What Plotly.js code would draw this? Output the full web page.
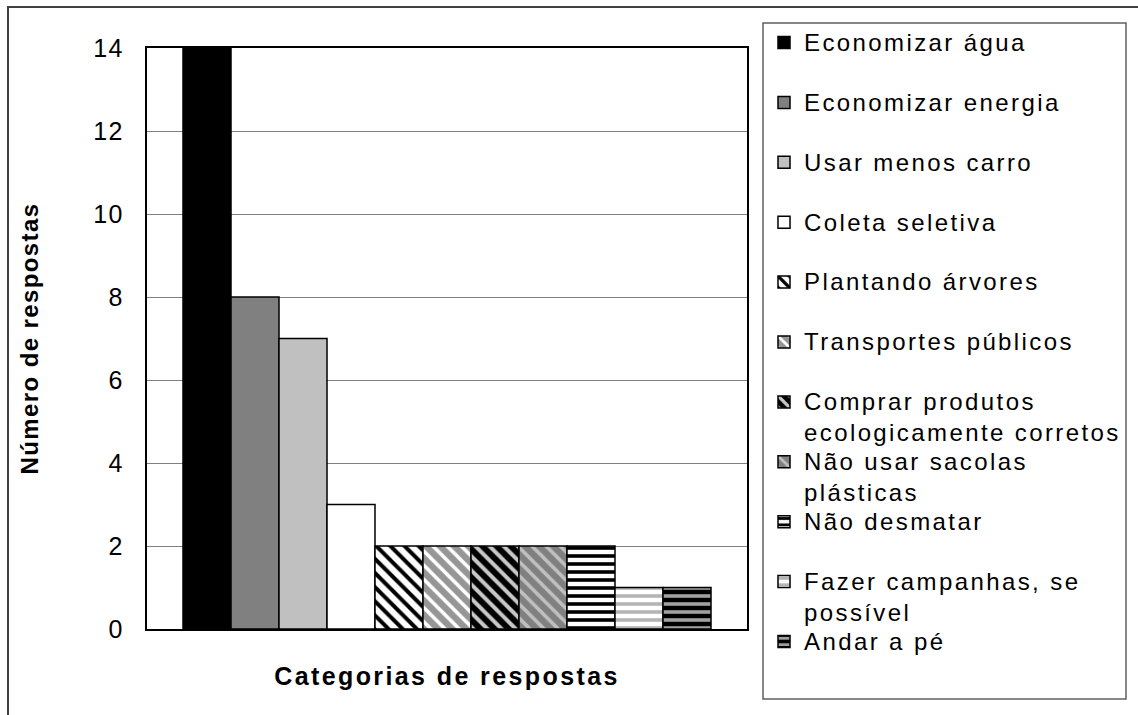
<!DOCTYPE html>
<html>
<head>
<meta charset="utf-8">
<script src="https://cdn.plot.ly/plotly-3.0.1.min.js"></script>
<style>
  html, body { margin: 0; padding: 0; background: #fff; }
  #chart { width: 1138px; height: 715px; }
  .legendtext { font-size: 24px !important; letter-spacing: 2.4px; }
  .ytick text { letter-spacing: 1.5px; }
  .g-xtitle text { letter-spacing: 2.4px; }
  .g-ytitle text { letter-spacing: 1.4px; }
</style>
</head>
<body>
<div id="chart"></div>
<script>
// ---- data ----
var categories = [
  "Economizar água",
  "Economizar energia",
  "Usar menos carro",
  "Coleta seletiva",
  "Plantando árvores",
  "Transportes públicos",
  "Comprar produtos ecologicamente corretos",
  "Não usar sacolas plásticas",
  "Não desmatar",
  "Fazer campanhas, se possível",
  "Andar a pé"
];
var legendLabels = [
  "Economizar água<br>&nbsp;",
  "Economizar energia<br>&nbsp;",
  "Usar menos carro<br>&nbsp;",
  "Coleta seletiva<br>&nbsp;",
  "Plantando árvores<br>&nbsp;",
  "Transportes públicos<br>&nbsp;",
  "Comprar produtos<br>ecologicamente corretos",
  "Não usar sacolas<br>plásticas",
  "Não desmatar<br>&nbsp;",
  "Fazer campanhas, se<br>possível",
  "Andar a pé<br>&nbsp;"
];
var values = [14, 8, 7, 3, 2, 2, 2, 2, 2, 1, 1];
var yTickVals = [0, 2, 4, 6, 8, 10, 12, 14];
var xTitle = "Categorias de respostas";
var yTitle = "Número de respostas";

// ---- styles ----
var fills = [
  {color: "#000000"},
  {color: "#808080"},
  {color: "#c0c0c0"},
  {color: "#ffffff"},
  {color: "#ffffff", pattern: {shape: "\\", fgcolor: "#000000", bgcolor: "#ffffff", size: 10, solidity: 0.4, fillmode: "replace"}},
  {color: "#ffffff", pattern: {shape: "\\", fgcolor: "#ffffff", bgcolor: "#969696", size: 10, solidity: 0.35, fillmode: "replace"}},
  {color: "#ffffff", pattern: {shape: "\\", fgcolor: "#c8c8c8", bgcolor: "#000000", size: 10, solidity: 0.4, fillmode: "replace"}},
  {color: "#ffffff", pattern: {shape: "\\", fgcolor: "#c0c0c0", bgcolor: "#808080", size: 10, solidity: 0.35, fillmode: "replace"}},
  {color: "#ffffff", pattern: {shape: "-", fgcolor: "#000000", bgcolor: "#ffffff", size: 8, solidity: 0.45, fillmode: "replace"}},
  {color: "#ffffff", pattern: {shape: "-", fgcolor: "#b4b4b4", bgcolor: "#ffffff", size: 8, solidity: 0.45, fillmode: "replace"}},
  {color: "#ffffff", pattern: {shape: "-", fgcolor: "#a0a0a0", bgcolor: "#000000", size: 8, solidity: 0.45, fillmode: "replace"}}
];

var FONT = "Liberation Sans, Arial, sans-serif";

var traces = categories.map(function (c, i) {
  var m = {color: fills[i].color, line: {color: "#000000", width: 1.5}};
  if (fills[i].pattern) m.pattern = fills[i].pattern;
  return {
    type: "bar",
    name: legendLabels[i],
    x: ["Categorias"],
    y: [values[i]],
    marker: m,
    legendgroup: "g" + i,
    hoverinfo: "skip"
  };
});

var W = 1138, H = 715;
var L = 147, R = 747, T = 48, B = 629;
function px(x) { return (x - L) / (R - L); }
function py(y) { return (B - y) / (B - T); }

var layout = {
  width: W, height: H,
  margin: {l: L, r: W - R, t: T, b: H - B, pad: 0},
  paper_bgcolor: "#ffffff",
  plot_bgcolor: "#ffffff",
  font: {family: FONT, color: "#000000", size: 21},
  barmode: "group",
  bargap: 0.12,
  bargroupgap: 0,
  showlegend: true,
  legend: {
    x: px(764), y: py(22), xanchor: "left", yanchor: "top",
    bgcolor: "rgba(0,0,0,0)", borderwidth: 0,
    font: {family: FONT, size: 21.5, color: "#000000"},
    traceorder: "grouped",
    tracegroupgap: 1,
    valign: "top",
    maxheight: 1,
    itemclick: false, itemdoubleclick: false
  },
  xaxis: {
    type: "category",
    showticklabels: false,
    ticks: "",
    showgrid: false,
    zeroline: false,
    showline: true, mirror: true, linecolor: "#000000", linewidth: 2,
    automargin: false,
    title: {text: "<b>" + xTitle + "</b>", font: {family: FONT, size: 25, color: "#000000"}, standoff: 37}
  },
  yaxis: {
    range: [0, 14],
    tickvals: yTickVals,
    ticktext: yTickVals.map(String),
    ticks: "",
    ticklabelstandoff: 16,
    tickfont: {family: FONT, size: 25, color: "#000000"},
    showgrid: true, gridcolor: "#808080", gridwidth: 1,
    zeroline: false,
    showline: true, mirror: true, linecolor: "#000000", linewidth: 2,
    automargin: false,
    title: {text: "<b>" + yTitle + "</b>", font: {family: FONT, size: 24, color: "#000000"}, standoff: 48}
  },
  shapes: [
    {type: "rect", xref: "paper", yref: "paper", x0: px(8), x1: px(1180), y0: py(760), y1: py(7),
     line: {color: "#404040", width: 2}, fillcolor: "rgba(0,0,0,0)", layer: "below"},
    {type: "rect", xref: "paper", yref: "paper", x0: px(763), x1: px(1126), y0: py(699), y1: py(23),
     line: {color: "#606060", width: 1.5}, fillcolor: "rgba(0,0,0,0)", layer: "below"}
  ]
};

Plotly.newPlot("chart", traces, layout, {displayModeBar: false, staticPlot: true});
</script>
</body>
</html>
